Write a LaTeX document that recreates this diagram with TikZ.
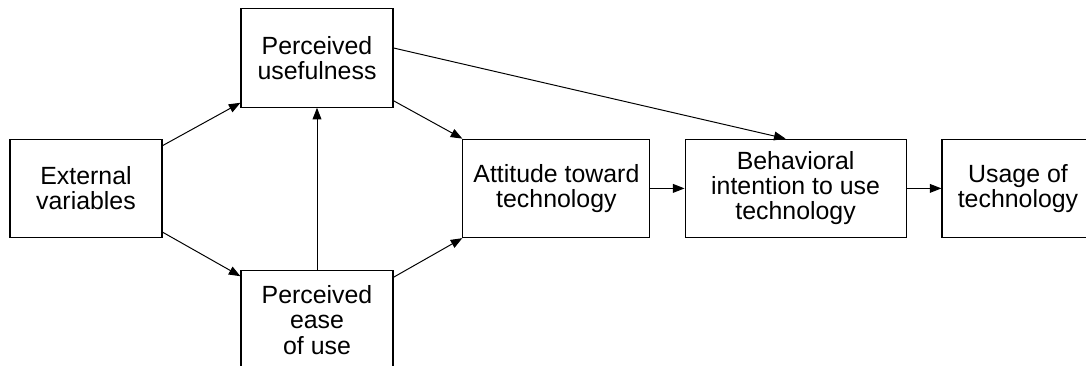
\documentclass[tikz,border=0pt]{standalone}
\usepackage{fontspec}
\setmainfont{Liberation Sans}
\usetikzlibrary{arrows.meta}
\tikzset{
  box/.style={rectangle,draw=black,line width=0.8pt,fill=white,
              minimum width=#1,minimum height=2.46cm,inner sep=0pt,
              align=center,font=\fontsize{17.7}{17.9}\selectfont},
  box/.default=3.8cm,
  arrow/.style={-{Triangle[length=0.29cm,width=0.22cm]},line width=0.7pt},
}
\begin{document}
\begin{tikzpicture}
    \useasboundingbox (0,0) rectangle (27.15,9.15);

    % External variables
    \node[box] (ext) at (2.15,4.44) {External\\variables};

    % Perceived usefulness / ease of use
    \node[box] (pu) at (7.925,7.7) {Perceived\\usefulness};
    \node[box] (peou) at (7.925,1.15) {Perceived\\ease\\of use};

    % Attitude
    \node[box=4.675cm] (att) at (13.91,4.44) {Attitude toward\\technology};

    % Intention
    \node[box=5.525cm] (bi) at (19.89,4.44) {Behavioral\\intention to use\\technology};

    % Usage
    \node[box=3.8cm] (use) at (25.45,4.44) {Usage of\\technology};

    \draw[arrow] ([yshift=-0.175cm]ext.north east) -- ([yshift=0.125cm]pu.south west);
    \draw[arrow] ([yshift=0.15cm]ext.south east) -- ([yshift=-0.15cm]peou.north west);
    \draw[arrow] (peou.north) -- (pu.south);
    \draw[arrow] ([yshift=0.175cm]pu.south east) -- (att.north west);
    \draw[arrow] ([yshift=-0.175cm]peou.north east) -- (att.south west);
    \draw[arrow] ([yshift=0.25cm]pu.east) -- ([xshift=-0.25cm]bi.north);
    \draw[arrow] (att.east) -- (bi.west);
    \draw[arrow] (bi.east) -- (use.west);

\end{tikzpicture}
\end{document}
